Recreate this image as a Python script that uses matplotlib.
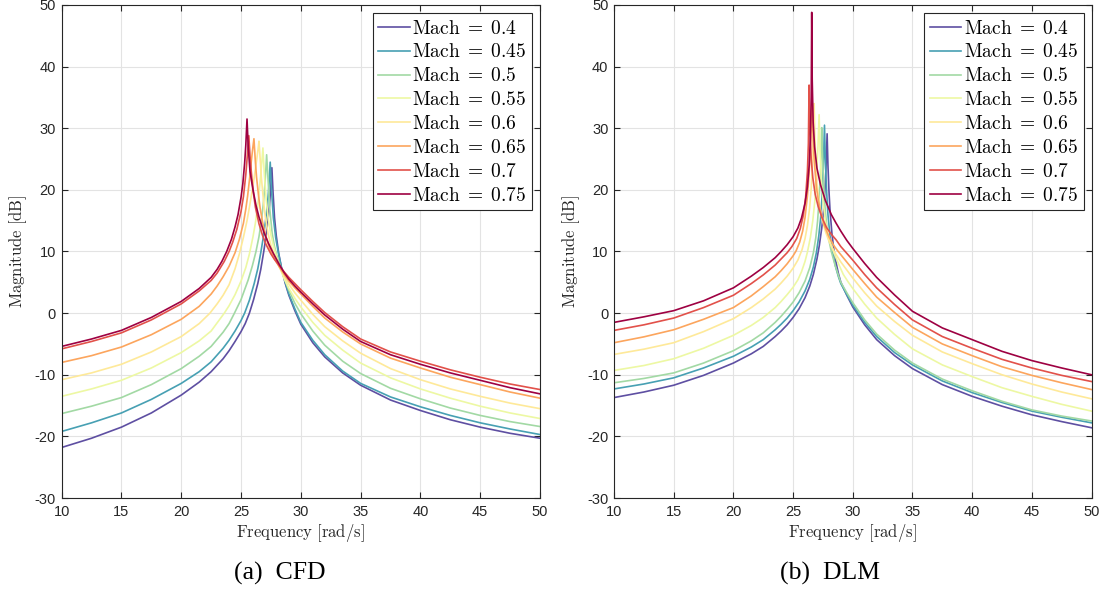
import numpy as np
import matplotlib.pyplot as plt

plt.rcParams['mathtext.fontset'] = 'cm'
plt.rcParams['axes.unicode_minus'] = False

mach = [0.4, 0.45, 0.5, 0.55, 0.6, 0.65, 0.7, 0.75]

# CFD curves
cfd_f_040 = [10, 12.5, 15, 17.5, 20, 21.5, 22.5, 23.5, 24, 24.5, 25, 25.35, 25.7, 26.05, 26.4, 26.65, 26.9, 27.1, 27.25, 27.38, 27.48, 27.58,
             27.68, 27.8, 27.95, 28.15, 28.4, 28.7, 29.0, 29.5, 30, 31, 32, 33.5, 35, 37.5, 40, 42.5, 45, 47.5, 50]
cfd_m_040 = [-21.8, -20.3, -18.5, -16.2, -13.3, -11.2, -9.5, -7.4, -6.1, -4.6, -3.0, -1.7, 0.0, 2.2, 4.8, 7.1, 10.0, 12.6, 15.0, 17.5, 20.3, 23.6,
             19.5, 15.5, 12.5, 9.7, 7.2, 4.8, 2.9, 0.4, -1.8, -4.8, -7.1, -9.7, -11.7, -14.1, -15.8, -17.3, -18.5, -19.5, -20.3]
cfd_f_045 = [10, 12.5, 15, 17.5, 20, 21.5, 22.5, 23.5, 24, 24.5, 25, 25.3, 25.7, 26.1, 26.4, 26.65, 26.87, 27.05, 27.2, 27.32, 27.44,
             27.55, 27.7, 27.9, 28.1, 28.4, 28.7, 29.0, 29.5, 30, 31, 32, 33.5, 35, 37.5, 40, 42.5, 45, 47.5, 50]
cfd_m_045 = [-19.2, -17.8, -16.2, -14.0, -11.4, -9.5, -7.9, -5.7, -4.4, -2.9, -1.2, 0.0, 2.1, 4.8, 7.2, 9.8, 12.4, 15.0, 17.5, 20.3, 24.5,
             20.0, 15.5, 12.2, 10.0, 7.2, 5.0, 3.1, 0.7, -1.5, -4.4, -6.75, -9.4, -11.4, -13.6, -15.2, -16.6, -17.8, -18.8, -19.7]
cfd_f_050 = [10, 12.5, 15, 17.5, 20, 21.5, 22.5, 23.5, 24, 24.45, 25, 25.6, 25.95, 26.25, 26.5, 26.7, 26.85, 26.97, 27.06, 27.14,
             27.25, 27.4, 27.6, 27.8, 28.0, 28.4, 28.7, 29.0, 29.5, 30, 31, 32, 33.5, 35, 37.5, 40, 42.5, 45, 47.5, 50]
cfd_m_050 = [-16.3, -15.1, -13.7, -11.6, -9.0, -7.0, -5.4, -3.1, -1.7, 0.0, 2.2, 5.4, 7.7, 10.0, 12.4, 15.0, 17.5, 20.2, 22.8, 25.7,
             22.0, 17.0, 13.0, 10.8, 9.3, 7.0, 5.3, 3.7, 1.6, -0.1, -2.9, -5.2, -7.8, -9.8, -12.2, -13.9, -15.4, -16.6, -17.6, -18.4]
cfd_f_055 = [10, 12.5, 15, 17.5, 20, 21.5, 22.5, 23.6, 24, 24.5, 25, 25.4, 25.7, 26.0, 26.2, 26.38, 26.5, 26.65, 26.74, 26.83,
             26.95, 27.1, 27.3, 27.5, 27.7, 28.2, 28.6, 29.0, 29.5, 30, 31, 32, 33.5, 35, 37.5, 40, 42.5, 45, 47.5, 50]
cfd_m_055 = [-13.5, -12.3, -10.9, -8.9, -6.4, -4.5, -2.9, 0.0, 1.2, 3.0, 5.2, 7.4, 9.6, 12.4, 14.6, 17.2, 19.3, 22.5, 24.5, 26.8,
             22.5, 18.5, 15.0, 12.7, 11.0, 7.6, 5.6, 4.0, 2.4, 1.0, -1.5, -3.6, -6.0, -8.1, -10.5, -12.3, -13.8, -15.1, -16.2, -17.1]
cfd_f_060 = [10, 12.5, 15, 17.5, 20, 21.5, 22.4, 23.0, 23.5, 24, 24.5, 24.86, 25.2, 25.5, 25.72, 25.9, 26.1, 26.3, 26.42, 26.5,
             26.6, 26.7, 26.85, 27.0, 27.25, 27.5, 27.8, 28.2, 28.6, 29.0, 29.5, 30, 31, 32, 33.5, 35, 37.5, 40, 42.5, 45, 47.5, 50]
cfd_m_060 = [-10.8, -9.7, -8.3, -6.3, -3.8, -1.7, 0.0, 1.5, 2.9, 4.6, 7.2, 9.6, 12.3, 15.0, 17.4, 19.5, 22.0, 24.8, 26.5, 27.9,
             25.0, 22.0, 18.8, 16.0, 13.0, 11.0, 9.3, 7.5, 6.0, 4.7, 3.3, 2.1, -0.2, -2.2, -4.5, -6.5, -9.0, -10.8, -12.3, -13.5, -14.6, -15.5]
cfd_f_065 = [10, 12.5, 15, 17.5, 20, 21.5, 22.5, 23.0, 23.5, 24, 24.5, 24.85, 25.2, 25.4, 25.55, 25.72, 25.85, 25.97, 26.08,
             26.2, 26.3, 26.45, 26.6, 26.8, 27.0, 27.25, 27.5, 27.8, 28.2, 28.6, 29.0, 29.5, 30, 31, 32, 33.5, 35, 37.5, 40, 42.5, 45, 47.5, 50]
cfd_m_065 = [-8.0, -6.9, -5.5, -3.5, -1.0, 1.1, 3.1, 4.4, 5.9, 7.6, 9.8, 11.9, 14.6, 16.9, 19.0, 21.9, 24.5, 26.6, 28.3,
             24.5, 22.0, 19.3, 17.0, 14.8, 13.0, 11.3, 10.0, 8.8, 7.5, 6.3, 5.2, 4.1, 3.1, 1.1, -0.8, -3.05, -5.0, -7.3, -8.9, -10.4, -11.6, -12.8, -13.8]
cfd_f_070 = [10, 12.5, 15, 17.5, 20, 21.5, 22.5, 23.0, 23.6, 24.0, 24.3, 24.65, 25.0, 25.2, 25.4, 25.52, 25.65,
             25.75, 25.9, 26.05, 26.2, 26.5, 26.8, 27.1, 27.5, 27.8, 28.2, 28.6, 29.0, 29.5, 30, 31, 32, 33.5, 35, 37.5, 40, 42.5, 45, 47.5, 50]
cfd_m_070 = [-5.8, -4.6, -3.2, -1.1, 1.5, 3.6, 5.3, 6.5, 8.4, 10.0, 11.5, 13.6, 16.5, 18.9, 22.5, 25.4, 28.8,
             25.5, 22.0, 19.3, 17.2, 14.5, 12.6, 11.1, 9.6, 8.7, 7.7, 6.7, 5.8, 4.8, 3.8, 1.9, 0.1, -2.2, -4.2, -6.3, -7.8, -9.2, -10.4, -11.5, -12.4]
cfd_f_075 = [10, 12.5, 15, 17.5, 20, 21.5, 22.5, 23.0, 23.4, 23.8, 24.2, 24.5, 24.75, 25.0, 25.15, 25.3, 25.4, 25.5,
             25.6, 25.75, 26.0, 26.25, 26.5, 26.9, 27.3, 27.7, 28.2, 28.6, 29.0, 29.5, 30, 31, 32, 33.5, 35, 37.5, 40, 42.5, 45, 47.5, 50]
cfd_m_075 = [-5.4, -4.2, -2.8, -0.7, 1.9, 4.0, 5.8, 7.1, 8.4, 10.0, 12.0, 14.0, 16.0, 18.8, 21.0, 24.3, 27.3, 31.5,
             27.0, 23.0, 20.0, 17.5, 15.6, 13.2, 11.3, 9.7, 7.9, 6.6, 5.5, 4.4, 3.4, 1.5, -0.3, -2.6, -4.6, -6.75, -8.3, -9.7, -10.9, -12.1, -13.1]

# DLM curves
dlm_f_040 = [10, 12.5, 15, 17.5, 20, 21.5, 22.5, 23.5, 24, 24.5, 25, 25.5, 26, 26.4, 26.7, 27.0, 27.2, 27.4, 27.55, 27.68, 27.77, 27.85,
             27.92, 28.0, 28.1, 28.25, 28.4, 28.6, 28.8, 29.0, 29.5, 30, 31, 32, 33.5, 35, 37.5, 40, 42.5, 45, 47.5, 50]
dlm_m_040 = [-13.7, -12.8, -11.7, -10.1, -8.1, -6.6, -5.4, -3.8, -2.9, -1.9, -0.7, 0.7, 2.5, 4.4, 6.3, 8.8, 11.0, 13.8, 16.6, 20.3, 24.2, 29.1,
             24.0, 20.0, 16.5, 13.0, 10.5, 8.2, 6.4, 5.0, 2.9, 1.0, -1.9, -4.3, -6.9, -9.0, -11.6, -13.5, -15.1, -16.5, -17.6, -18.6]
dlm_f_045 = [10, 12.5, 15, 17.5, 20, 21.5, 22.5, 23.5, 24, 24.5, 25, 25.5, 26, 26.4, 26.7, 26.95, 27.15, 27.3, 27.42, 27.53, 27.63,
             27.7, 27.8, 27.92, 28.1, 28.3, 28.55, 28.8, 29.0, 29.5, 30, 31, 32, 33.5, 35, 37.5, 40, 42.5, 45, 47.5, 50]
dlm_m_045 = [-12.3, -11.5, -10.5, -8.9, -7.0, -5.5, -4.3, -2.7, -1.8, -0.8, 0.4, 1.8, 3.6, 5.5, 7.5, 9.8, 12.5, 15.3, 18.8, 23.5, 30.5,
             25.0, 20.0, 16.0, 12.4, 10.0, 7.6, 5.9, 4.8, 3.0, 1.3, -1.5, -3.8, -6.4, -8.4, -11.0, -12.9, -14.5, -15.9, -16.9, -17.8]
dlm_f_050 = [10, 12.5, 15, 17.5, 20, 21.5, 22.5, 23.5, 24, 24.5, 25, 25.5, 26, 26.4, 26.7, 26.9, 27.05, 27.18, 27.3, 27.4,
             27.47, 27.57, 27.7, 27.9, 28.2, 28.5, 28.8, 29.0, 29.5, 30, 31, 32, 33.5, 35, 37.5, 40, 42.5, 45, 47.5, 50]
dlm_m_050 = [-11.3, -10.6, -9.7, -8.1, -6.1, -4.5, -3.2, -1.5, -0.5, 0.6, 1.8, 3.3, 5.2, 7.4, 9.8, 12.2, 14.9, 18.5, 23.0, 30.1,
             25.5, 20.5, 16.5, 12.8, 10.0, 7.9, 6.1, 5.0, 3.3, 1.7, -1.1, -3.4, -6.0, -8.1, -10.7, -12.6, -14.3, -15.7, -16.7, -17.5]
dlm_f_055 = [10, 12.5, 15, 17.5, 20, 21.5, 22.5, 23.5, 24, 24.5, 25, 25.4, 25.7, 26.0, 26.2, 26.45, 26.65, 26.82, 26.95, 27.07, 27.18,
             27.26, 27.36, 27.5, 27.7, 27.95, 28.2, 28.5, 28.85, 29.2, 29.6, 30, 31, 32, 33.5, 35, 37.5, 40, 42.5, 45, 47.5, 50]
dlm_m_055 = [-9.3, -8.5, -7.4, -5.7, -3.6, -2.0, -0.7, 0.9, 1.9, 3.0, 4.2, 5.4, 6.7, 8.4, 9.9, 12.3, 15.0, 18.2, 21.8, 26.3, 32.2,
             26.5, 22.0, 18.3, 15.0, 12.5, 10.9, 9.4, 7.8, 6.3, 5.1, 4.0, 1.45, -0.8, -3.45, -5.8, -8.4, -10.3, -12.1, -13.5, -14.8, -15.9]
dlm_f_060 = [10, 12.5, 15, 17.5, 20, 21.5, 22.5, 23.5, 24, 24.5, 25, 25.4, 25.75, 26.0, 26.2, 26.38, 26.52, 26.64, 26.76,
             26.82, 26.9, 27.0, 27.2, 27.4, 27.7, 28.0, 28.5, 29.0, 29.5, 30, 31, 32, 33.5, 35, 37.5, 40, 42.5, 45, 47.5, 50]
dlm_m_060 = [-6.7, -5.85, -4.8, -3.0, -0.9, 0.9, 2.3, 3.9, 4.9, 6.0, 7.3, 8.6, 10.3, 12.1, 14.2, 17.0, 20.3, 25.0, 34.0,
             29.0, 24.5, 21.0, 17.8, 15.5, 13.3, 11.7, 9.8, 8.3, 7.0, 5.7, 3.3, 1.15, -1.35, -3.6, -6.3, -8.2, -10.0, -11.5, -12.8, -13.9]
dlm_f_065 = [10, 12.5, 15, 17.5, 20, 21.5, 22.5, 23.5, 24, 24.5, 25, 25.25, 25.55, 25.8, 26.0, 26.2, 26.35, 26.48, 26.59,
             26.65, 26.72, 26.82, 26.95, 27.1, 27.3, 27.6, 28.0, 28.4, 28.7, 29.2, 29.6, 30, 31, 32, 33.5, 35, 37.5, 40, 42.5, 45, 47.5, 50]
dlm_m_065 = [-4.8, -3.85, -2.7, -1.0, 0.9, 2.8, 4.3, 5.9, 6.9, 8.0, 9.3, 10.1, 11.5, 13.3, 15.5, 19.0, 23.0, 28.0, 35.0,
             30.0, 26.5, 23.5, 20.5, 18.5, 16.5, 14.3, 12.4, 11.0, 10.2, 9.0, 8.05, 7.1, 4.8, 2.6, 0.1, -2.3, -5.0, -6.9, -8.7, -10.1, -11.3, -12.4]
dlm_f_070 = [10, 12.5, 15, 17.5, 20, 21.5, 22.5, 23.5, 24, 24.5, 24.9, 25.3, 25.6, 25.85, 26.05, 26.2, 26.28, 26.34,
             26.42, 26.52, 26.65, 26.85, 27.1, 27.4, 27.8, 28.2, 28.6, 29.0, 29.5, 30, 31, 32, 33.5, 35, 37.5, 40, 42.5, 45, 47.5, 50]
dlm_m_070 = [-2.8, -1.9, -0.8, 0.9, 2.9, 4.8, 6.2, 7.8, 8.8, 9.8, 10.8, 12.1, 13.7, 15.8, 18.8, 23.0, 27.5, 37.0,
             29.5, 25.0, 22.0, 19.3, 17.3, 15.6, 13.9, 12.8, 11.9, 10.8, 9.7, 8.6, 6.25, 4.1, 1.4, -1.1, -3.8, -5.7, -7.5, -8.9, -10.1, -11.1]
dlm_f_075 = [10, 12.5, 15, 17.5, 20, 21.5, 22.5, 23.5, 24, 24.5, 25, 25.4, 25.7, 26.0, 26.2, 26.35, 26.45, 26.52, 26.56,
             26.6, 26.68, 26.8, 27.0, 27.3, 27.7, 28.2, 28.6, 29.0, 29.5, 30, 31, 32, 33.5, 35, 37.5, 40, 42.5, 45, 47.5, 50]
dlm_m_075 = [-1.5, -0.6, 0.4, 2.0, 4.1, 6.0, 7.4, 9.0, 10.0, 11.1, 12.4, 13.8, 15.4, 17.8, 20.5, 24.0, 28.5, 35.0, 48.8,
             38.0, 31.0, 27.0, 23.5, 20.8, 18.3, 16.0, 14.6, 13.3, 11.8, 10.5, 8.05, 5.8, 2.95, 0.3, -2.4, -4.3, -6.2, -7.7, -8.9, -10.0]

cfd_series = [(cfd_f_040, cfd_m_040), (cfd_f_045, cfd_m_045), (cfd_f_050, cfd_m_050),
              (cfd_f_055, cfd_m_055), (cfd_f_060, cfd_m_060), (cfd_f_065, cfd_m_065),
              (cfd_f_070, cfd_m_070), (cfd_f_075, cfd_m_075)]
dlm_series = [(dlm_f_040, dlm_m_040), (dlm_f_045, dlm_m_045), (dlm_f_050, dlm_m_050),
              (dlm_f_055, dlm_m_055), (dlm_f_060, dlm_m_060), (dlm_f_065, dlm_m_065),
              (dlm_f_070, dlm_m_070), (dlm_f_075, dlm_m_075)]

# Spectral, dark red for the highest Mach, purple for the lowest
colors = plt.cm.Spectral(np.linspace(1, 0, len(mach)))

fig = plt.figure(figsize=(11.07, 5.94), dpi=100)
ax1 = fig.add_axes([0.0557, 0.1616, 0.4321, 0.830])
ax2 = fig.add_axes([0.5547, 0.1616, 0.4313, 0.830])


def style_axes(ax, series):
    for i, (f, m) in enumerate(series):
        ax.plot(f, m, color=colors[i], lw=1.2, label=r'$\mathrm{Mach}\;=\;%s$' % mach[i])
    ax.set_xlim(10, 50)
    ax.set_ylim(-30, 50)
    ax.set_xticks(np.arange(10, 51, 5))
    ax.set_yticks(np.arange(-30, 51, 10))
    ax.grid(True, color='#e3e3e3', lw=0.8)
    ax.set_axisbelow(True)
    for sp in ax.spines.values():
        sp.set_color('#262626')
        sp.set_linewidth(0.8)
    ax.tick_params(direction='in', top=True, right=True, length=4, width=0.8,
                   color='#262626', labelcolor='#262626', labelsize=10.5)
    ax.tick_params(axis='x', pad=5)
    ax.tick_params(axis='y', pad=4)
    for lab in ax.get_xticklabels() + ax.get_yticklabels():
        lab.set_family('Liberation Sans')
    ax.set_xlabel(r'$\mathrm{Frequency\ [rad/s]}$', fontsize=12, labelpad=2, color='#262626')
    ax.set_ylabel(r'$\mathrm{Magnitude\ [dB]}$', fontsize=12, labelpad=4, color='#262626')
    leg = ax.legend(loc='upper right', fontsize=14, frameon=True, fancybox=False,
                    framealpha=1, edgecolor='#262626', handlelength=1.6,
                    handletextpad=0.15, labelspacing=0.25, borderpad=0.3,
                    borderaxespad=0.4)
    leg.get_frame().set_linewidth(0.8)


style_axes(ax1, cfd_series)
style_axes(ax2, dlm_series)

fig.text(0.253, 0.035, '(a)  CFD', ha='center', va='center', fontsize=18.5, family='Liberation Serif')
fig.text(0.750, 0.035, '(b)  DLM', ha='center', va='center', fontsize=18.5, family='Liberation Serif')

fig.savefig('out.png', dpi=100)
